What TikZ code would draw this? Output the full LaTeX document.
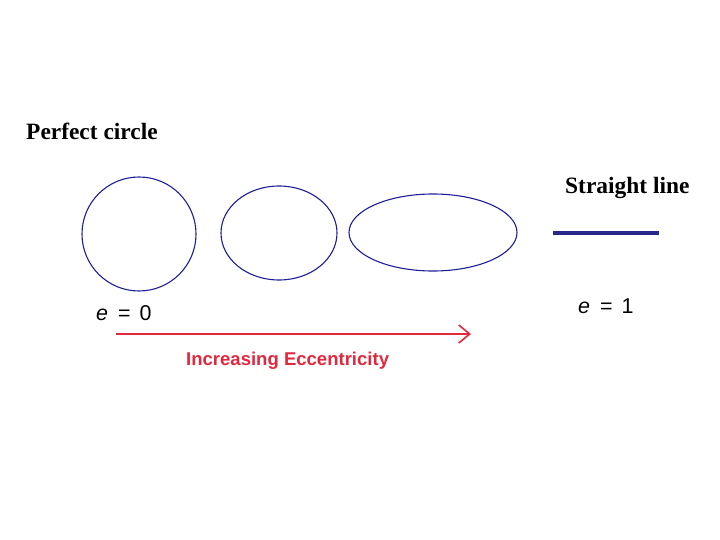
\documentclass[tikz,border=0pt]{standalone}
\usepackage{fontspec}
\setmainfont{Liberation Serif}
\newfontfamily\arialf{Liberation Sans}
\usetikzlibrary{arrows.meta}
\definecolor{orbblue}{RGB}{30,30,150}
\definecolor{lineblue}{RGB}{40,40,140}
\definecolor{incred}{RGB}{225,40,60}
\begin{document}
\begin{tikzpicture}[x=1bp,y=-1bp,
  orbit/.style={draw=orbblue,line width=1.1bp},
  title/.style={font=\fontsize{23.5}{25}\selectfont\bfseries,inner sep=0pt},
  evalue/.style={font=\arialf\fontsize{21.5}{23}\selectfont,inner sep=0pt},
  incr/.style={draw=incred,line width=1.6bp}]
\useasboundingbox (0,0) rectangle (720,540);
\node[title,anchor=base west] (pc) at (26,140) {Perfect circle};
\node[title,anchor=base west] (sl) at (565,194) {Straight line};
\draw[orbit] (139,234) circle[radius=57];
\draw[orbit] (279,233) ellipse[x radius=58,y radius=47];
\draw[orbit] (433,232.5) ellipse[x radius=84,y radius=38.5];
\coordinate (l1) at (553,233);
\coordinate (l2) at (659,233);
\draw[draw=lineblue,line width=3.5bp] (l1) -- (l2);
\node[evalue,anchor=base west] (e0) at (96,320) {\textit{e}\hspace{4bp} = \hspace{3bp}0};
\node[evalue,anchor=base west] (e1) at (578,313) {\textit{e}\hspace{4bp} = \hspace{3bp}1};
\coordinate (a1) at (116,334);
\coordinate (a2) at (471,334);
\draw[incr,-{Straight Barb[length=11bp,width=18bp,line width=1.6bp]}] (a1) -- (a2);
\node[font=\arialf\bfseries\fontsize{18.6}{20}\selectfont,text=incred,anchor=base west,inner sep=0pt] (ie) at (186,365) {Increasing Eccentricity};
\end{tikzpicture}
\end{document}
